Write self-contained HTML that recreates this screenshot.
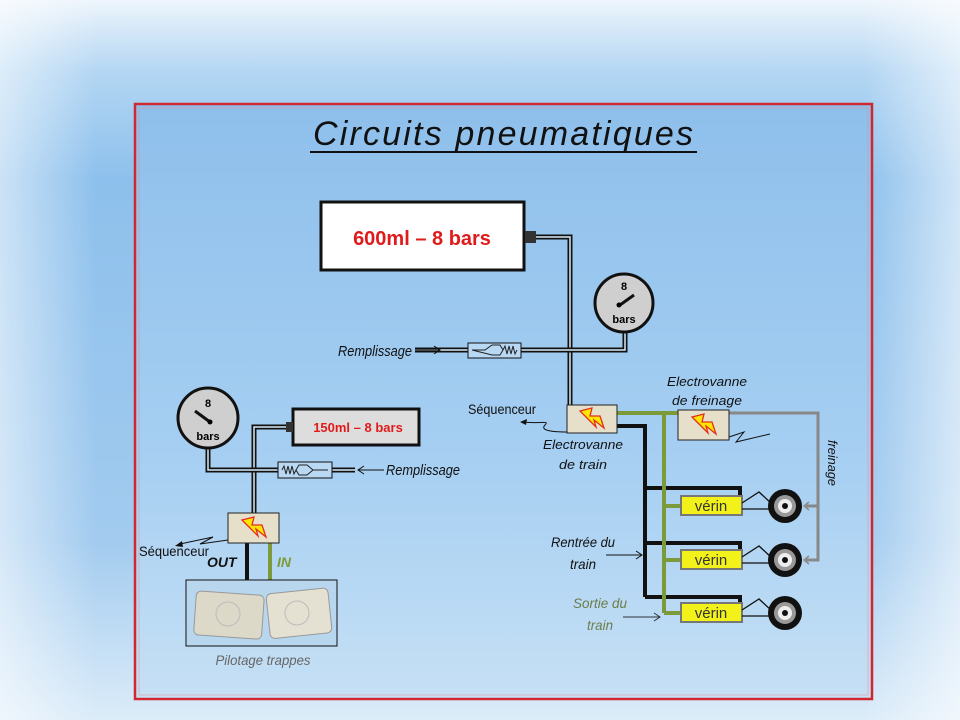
<!DOCTYPE html>
<html><head><meta charset="utf-8"><style>
html,body{margin:0;padding:0;width:960px;height:720px;overflow:hidden;background:#fff}
svg{display:block}
text{font-family:"Liberation Sans",sans-serif}
.it{font-style:italic}
</style></head><body>
<svg width="960" height="720" viewBox="0 0 960 720" xmlns="http://www.w3.org/2000/svg">
<defs>
<linearGradient id="bgv" x1="0" y1="0" x2="0" y2="1">
<stop offset="0" stop-color="#eef5fc"/><stop offset="0.1" stop-color="#b3d6f3"/><stop offset="0.25" stop-color="#8dc0ec"/><stop offset="0.75" stop-color="#a2cbef"/><stop offset="1" stop-color="#dcecf9"/>
</linearGradient>
<linearGradient id="bgh" x1="0" y1="0" x2="1" y2="0">
<stop offset="0" stop-color="#fff" stop-opacity="0.55"/><stop offset="0.1" stop-color="#fff" stop-opacity="0"/><stop offset="0.9" stop-color="#fff" stop-opacity="0"/><stop offset="1" stop-color="#fff" stop-opacity="0.6"/>
</linearGradient>
<linearGradient id="inner" x1="0" y1="0" x2="0" y2="1">
<stop offset="0" stop-color="#8ebfeb"/><stop offset="0.6" stop-color="#a6cff2"/><stop offset="1" stop-color="#c6e0f5"/>
</linearGradient>
<g id="bolt"><polygon points="-12,-8 0,-11 -2,-3 8,-3 12,9 2,1 4,8 -8,-4" fill="#ffe600" stroke="#e0301e" stroke-width="1.3"/></g>
<g id="wheel"><circle r="17" fill="#111"/><circle r="11" fill="#999"/><circle r="7" fill="#eee"/><circle r="3" fill="#111"/></g>
</defs>
<rect width="960" height="720" fill="url(#bgv)"/>
<rect width="960" height="720" fill="url(#bgh)"/>
<rect x="135" y="104" width="737" height="595" fill="url(#inner)"/>
<rect x="135" y="104" width="737" height="595" fill="none" stroke="#d0282e" stroke-width="2.5"/>
<rect x="139" y="108" width="729" height="587" fill="none" stroke="#e88" stroke-width="0.8" opacity="0.6"/>

<text x="503" y="145" text-anchor="middle" font-size="34" class="it" fill="#111" textLength="380" lengthAdjust="spacing">Circuits  pneumatiques</text>
<line x1="310" y1="152" x2="697" y2="152" stroke="#111" stroke-width="2"/>

<rect x="321" y="202" width="203" height="68" fill="#fff" stroke="#111" stroke-width="3"/>
<text x="422" y="245" text-anchor="middle" font-size="20" font-weight="bold" fill="#e01b1b">600ml – 8 bars</text>
<rect x="525" y="231" width="11" height="12" fill="#333"/>

<g fill="none" stroke-linejoin="miter">
<path d="M536,237 H570 V405" stroke="#111" stroke-width="5"/>
<path d="M536,237 H570 V405" stroke="#d8ecfb" stroke-width="1.5"/>
<path d="M415,350 H625 V330" stroke="#111" stroke-width="5"/>
<path d="M415,350 H625 V330" stroke="#d8ecfb" stroke-width="1.5"/>
</g>
<rect x="468" y="343" width="53" height="15" fill="#b8d8f3" stroke="#111" stroke-width="1"/>
<path d="M472,350 H485 L492,345 H500 L503,350 L500,355 H492 Z M503,350 l2,-4 2,8 2,-8 2,8 2,-8 2,8 2,-4" fill="none" stroke="#222" stroke-width="1"/>
<circle cx="624" cy="303" r="29" fill="#cfcfcf" stroke="#111" stroke-width="3"/>
<text x="624" y="290" text-anchor="middle" font-size="11" font-weight="bold">8</text>
<text x="624" y="323" text-anchor="middle" font-size="11" font-weight="bold">bars</text>
<line x1="620" y1="305" x2="634" y2="295" stroke="#111" stroke-width="3"/><circle cx="619" cy="305" r="2.5"/>
<text x="412" y="356" text-anchor="end" font-size="15" class="it" fill="#111" textLength="74" lengthAdjust="spacingAndGlyphs">Remplissage</text>
<path d="M415,350 H440 M434,346 L440,350 L434,354" fill="none" stroke="#111" stroke-width="1"/>

<path d="M617,426 H645 V597" fill="none" stroke="#111" stroke-width="4"/>
<path d="M645,488 H740 V497 M645,543 H740 V551 M645,597 H740 V604" fill="none" stroke="#111" stroke-width="4"/>
<path d="M617,413 H680 M664,413 V613 M664,506 H681 M664,560 H681 M664,613 H681" fill="none" stroke="#7d9a3a" stroke-width="4"/>
<path d="M729,413 H818 V560 H806 M818,506 H806" fill="none" stroke="#888" stroke-width="3"/>
<path d="M809,502 L804,506 L809,510 M809,556 L804,560 L809,564" fill="none" stroke="#888" stroke-width="1.5"/>

<rect x="567" y="405" width="50" height="28" fill="#e6dfca" stroke="#222" stroke-width="1"/>
<use href="#bolt" x="592" y="419"/>
<rect x="678" y="410" width="51" height="30" fill="#e6dfca" stroke="#222" stroke-width="1"/>
<use href="#bolt" x="704" y="425"/>
<path d="M729,437 L744,432 L736,442 L770,434" fill="none" stroke="#111" stroke-width="1"/>
<text x="707" y="386" text-anchor="middle" font-size="13" class="it" fill="#111" textLength="80" lengthAdjust="spacingAndGlyphs">Electrovanne</text>
<text x="707" y="405" text-anchor="middle" font-size="13" class="it" fill="#111" textLength="70" lengthAdjust="spacingAndGlyphs">de freinage</text>
<text x="583" y="449" text-anchor="middle" font-size="13" class="it" fill="#111" textLength="80" lengthAdjust="spacingAndGlyphs">Electrovanne</text>
<text x="583" y="469" text-anchor="middle" font-size="13" class="it" fill="#111" textLength="48" lengthAdjust="spacingAndGlyphs">de train</text>
<text x="502" y="414" text-anchor="middle" font-size="14" fill="#111" textLength="68" lengthAdjust="spacingAndGlyphs">Séquenceur</text>
<path d="M567,432 C550,432 540,430 545,425 C550,420 540,424 522,422" fill="none" stroke="#111" stroke-width="1"/>
<polygon points="520,422 527,419 526,425" fill="#111"/>
<text x="828" y="440" font-size="13" class="it" fill="#111" transform="rotate(90 828 440)" textLength="46" lengthAdjust="spacingAndGlyphs">freinage</text>

<g font-size="15" text-anchor="middle" fill="#333">
<rect x="681" y="496" width="61" height="19" fill="#f2f21a" stroke="#777" stroke-width="2"/><text x="711" y="511">vérin</text>
<rect x="681" y="550" width="61" height="19" fill="#f2f21a" stroke="#777" stroke-width="2"/><text x="711" y="565">vérin</text>
<rect x="681" y="603" width="61" height="19" fill="#f2f21a" stroke="#777" stroke-width="2"/><text x="711" y="618">vérin</text>
</g>
<g fill="none" stroke="#111" stroke-width="1.3">
<path d="M742,503 L759,492 L772,504 M742,509 H772"/>
<path d="M742,557 L759,546 L772,558 M742,563 H772"/>
<path d="M742,610 L759,599 L772,611 M742,616 H772"/>
</g>
<use href="#wheel" x="785" y="506"/><use href="#wheel" x="785" y="560"/><use href="#wheel" x="785" y="613"/>
<text x="583" y="547" text-anchor="middle" font-size="14" class="it" fill="#111" textLength="64" lengthAdjust="spacingAndGlyphs">Rentrée du</text>
<text x="583" y="569" text-anchor="middle" font-size="14" class="it" fill="#111" textLength="26" lengthAdjust="spacingAndGlyphs">train</text>
<path d="M606,555 H642 M636,551 L642,555 L636,559" fill="none" stroke="#111" stroke-width="1"/>
<text x="600" y="608" text-anchor="middle" font-size="14" class="it" fill="#6b7d4a" textLength="54" lengthAdjust="spacingAndGlyphs">Sortie du</text>
<text x="600" y="630" text-anchor="middle" font-size="14" class="it" fill="#6b7d4a" textLength="26" lengthAdjust="spacingAndGlyphs">train</text>
<path d="M623,617 H660 M654,613 L660,617 L654,621" fill="none" stroke="#333" stroke-width="1"/>

<g fill="none">
<path d="M286,427 H254 V513" stroke="#111" stroke-width="5"/>
<path d="M286,427 H254 V513" stroke="#d8ecfb" stroke-width="1.5"/>
<path d="M208,448 V470 H355" stroke="#111" stroke-width="5"/>
<path d="M208,448 V470 H355" stroke="#d8ecfb" stroke-width="1.5"/>
</g>
<rect x="278" y="462" width="54" height="16" fill="#b8d8f3" stroke="#111" stroke-width="1"/>
<path d="M282,470 l2,-4 2,8 2,-8 2,8 2,-8 2,8 2,-4 M296,470 L299,465 H307 L313,470 L307,475 H299 Z M313,470 H328" fill="none" stroke="#222" stroke-width="1"/>
<circle cx="208" cy="418" r="30" fill="#cfcfcf" stroke="#111" stroke-width="3"/>
<text x="208" y="407" text-anchor="middle" font-size="11" font-weight="bold">8</text>
<text x="208" y="440" text-anchor="middle" font-size="11" font-weight="bold">bars</text>
<line x1="210" y1="422" x2="195" y2="411" stroke="#111" stroke-width="3"/><circle cx="210" cy="422" r="2.5"/>
<rect x="293" y="409" width="126" height="36" fill="#ddd" stroke="#111" stroke-width="3"/>
<rect x="286" y="422" width="7" height="10" fill="#333"/>
<text x="358" y="432" text-anchor="middle" font-size="13" font-weight="bold" fill="#e01b1b">150ml – 8 bars</text>
<path d="M358,470 H384 M364,466 L358,470 L364,474" fill="none" stroke="#111" stroke-width="1"/>
<text x="386" y="475" font-size="15" class="it" fill="#111" textLength="74" lengthAdjust="spacingAndGlyphs">Remplissage</text>

<path d="M247,543 V581" stroke="#111" stroke-width="4"/>
<path d="M270,543 V581" stroke="#7d9a3a" stroke-width="4"/>
<rect x="228" y="513" width="51" height="30" fill="#e6dfca" stroke="#222" stroke-width="1"/>
<use href="#bolt" x="254" y="528"/>
<path d="M228,540 L200,544 L213,537 L180,544" fill="none" stroke="#111" stroke-width="1"/>
<polygon points="175,546 182,541 183,547" fill="#111"/>
<text x="174" y="556" text-anchor="middle" font-size="14" fill="#111" textLength="70" lengthAdjust="spacingAndGlyphs">Séquenceur</text>
<text x="207" y="567" font-size="14" font-weight="bold" class="it" fill="#111">OUT</text>
<text x="277" y="567" font-size="14" font-weight="bold" class="it" fill="#7d9a3a">IN</text>
<rect x="186" y="580" width="151" height="66" fill="#b9d6ef" stroke="#111" stroke-width="1"/>
<g transform="rotate(4 228 614)"><rect x="195" y="593" width="68" height="44" rx="5" fill="#ddd9c8" stroke="#999"/><circle cx="228" cy="614" r="12" fill="none" stroke="#bbb"/></g>
<g transform="rotate(-6 297 613)"><rect x="268" y="591" width="62" height="45" rx="5" fill="#e4e1d2" stroke="#999"/><circle cx="297" cy="613" r="12" fill="none" stroke="#bbb"/></g>
<text x="263" y="665" text-anchor="middle" font-size="14" class="it" fill="#666" textLength="95" lengthAdjust="spacingAndGlyphs">Pilotage trappes</text>
</svg>
</body></html>
